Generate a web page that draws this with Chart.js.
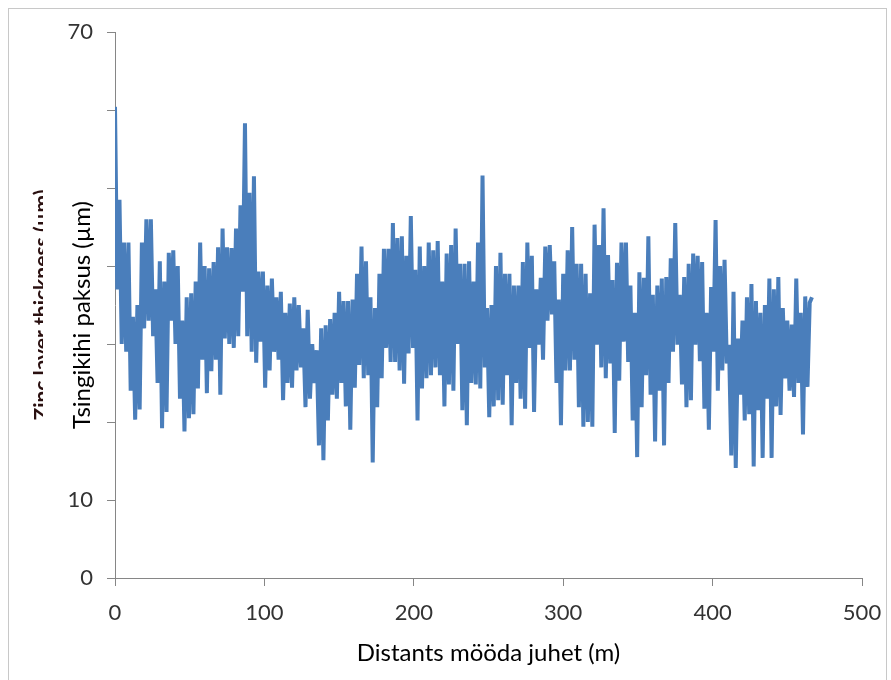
<!DOCTYPE html>
<html>
<head>
<meta charset="utf-8">
<script src="https://cdn.jsdelivr.net/npm/chart.js@4"></script>
<style>
  body { margin: 0; background: #fff; }
  #frame { position: absolute; left: 8px; top: 8px; width: 877px; height: 700px; border: 1px solid #c8c8c8; }
  #chart { position: absolute; left: 0; top: 0; }
</style>
</head>
<body>
<div id="frame"></div>
<canvas id="chart" width="891" height="680"></canvas>
<script>
// sample spacing along the wire (m)
const STEP_M = 1.5;

// zinc layer thickness (µm), left to right
const thickness = [
  // 0 - 78 m
  60.4, 37, 48.5, 30, 43, 29, 43, 24, 33.5, 20.3, 35, 21.6, 43, 32, 46, 33, 46, 31, 37, 25,
  40.6, 19.2, 38, 21.3, 41.7, 33, 42, 30, 40, 23, 33, 18.8, 36, 20.5, 36.5, 21, 38, 24.3,
  43, 28, 40, 23.7, 39.7, 26.5, 40.5, 28, 42.4, 23.5, 44.8, 30.7, 42.4, 30,
  // 78 - 156 m
  42.3, 29.5, 44.8, 31, 47.8, 36.7, 58.3, 31, 49.4, 29, 51.5, 27.6, 39.3, 30.3, 39.3, 24.4,
  37.5, 26.6, 38.4, 29, 36, 28, 36.7, 22.8, 34, 25, 35.2, 24.4, 36, 26.6, 35, 27, 32, 21.9,
  34.4, 23, 30, 25, 29.2, 17, 32, 15.1, 32.4, 20.2, 33.2, 23.5, 34, 23, 36.7, 25, 35.5, 22,
  // 156 - 234 m
  35.5, 19, 35.7, 24.4, 39, 27.3, 42.5, 25.6, 40.6, 26, 36, 14.8, 34.6, 21.9, 39, 25.6,
  42.2, 29.5, 42.2, 27.7, 45.5, 27.7, 43.6, 26.6, 43.8, 24.9, 41.3, 28.8, 46.4, 29.5,
  39.5, 20.2, 42.5, 24.3, 40, 25.6, 43, 26, 42, 27, 43.2, 26, 38, 22, 41.6, 24.8, 42.7, 24,
  44.8, 30, 40.3, 21.5,
  // 234 - 312 m
  40.3, 19.6, 40.6, 25, 38, 24.8, 43, 24.3, 51.6, 27, 34.6, 20.6, 35, 22, 40, 22.8,
  41.7, 22.2, 39, 26, 39, 19.6, 37.5, 25, 37.5, 23, 40.5, 21.7, 43, 29.5, 41.3, 21.3,
  37, 29.9, 38.5, 28, 42.5, 33, 42.7, 33.8, 40.6, 25, 35.7, 19.6, 39, 26.6, 42, 26.6,
  45, 28, 40.3, 21.9,
  // 312 - 390 m
  40.3, 19.4, 39, 20, 36.5, 19.4, 45.3, 29.9, 42.7, 27, 47.4, 25.6, 41.4, 27.5, 38.2, 18.6,
  40.4, 25.3, 43, 30.3, 43, 27.7, 37.5, 20.2, 34, 15.5, 39.2, 21.9, 38.5, 26, 43.8, 23.5,
  36.3, 17.5, 37.5, 24, 38.4, 17, 38.6, 25, 41, 29, 45.5, 29.9, 36.3, 24.8, 38.6, 21.9,
  40.3, 22.8, 41.6, 29.9,
  // 390 - 467 m
  41.3, 27.8, 40.5, 21.7, 34, 19, 37.3, 29, 45.9, 24, 40, 26.6, 40.8, 27.5, 29.9, 15.7,
  36.7, 14.1, 30.7, 23.5, 33, 20.2, 36, 21, 37.7, 14.3, 35.5, 21.5, 34, 15.4, 35, 23,
  38.4, 15.4, 37, 22, 38.6, 20.9, 34.6, 25.6, 33, 24, 32.5, 23.2, 38.4, 25, 34, 18.4,
  36.1, 24.5, 35.3, 36
];

const distance = thickness.map((_, i) => i * STEP_M);

const yTickLabels = [0, 10, 70];   // the others are hidden under the title box
const xTitle = 'Distants mööda juhet (m)';
const yTitle = 'Tsingikihi paksus (µm)';
const yTitleOld = 'Zinc layer thickness (µm)';

const axisColor = '#868686';
const tickFont = { family: 'Lato', size: 22 };

// old english title peeking out from under the pasted estonian one
const titlesPlugin = {
  id: 'titles',
  afterDraw(chart) {
    const ctx = chart.ctx;
    const midY = (chart.chartArea.top + chart.chartArea.bottom) / 2;
    ctx.save();
    ctx.beginPath();
    ctx.rect(0, 0, 43, chart.height);
    ctx.clip();
    ctx.translate(49, midY);
    ctx.rotate(-Math.PI / 2);
    ctx.textAlign = 'center';
    ctx.textBaseline = 'alphabetic';
    ctx.fillStyle = '#2a1010';
    ctx.font = 'bold 21px Lato';
    ctx.fillText(yTitleOld, 0, 0);
    ctx.restore();

    ctx.save();
    ctx.translate(90, midY + 10);
    ctx.rotate(-Math.PI / 2);
    ctx.textAlign = 'center';
    ctx.textBaseline = 'alphabetic';
    ctx.fillStyle = '#000';
    ctx.font = '24px Lato';
    ctx.fillText(yTitle, 0, 0);
    ctx.restore();
  }
};

const ctx = document.getElementById('chart').getContext('2d');
new Chart(ctx, {
  type: 'line',
  data: {
    datasets: [{
      data: distance.map((d, i) => ({ x: d, y: thickness[i] })),
      borderColor: '#4a7ebb',
      borderWidth: 4,
      pointRadius: 0,
      tension: 0,
      fill: false
    }]
  },
  options: {
    responsive: false,
    animation: false,
    layout: { padding: { left: 0, right: 29, top: 32, bottom: 0 } },
    plugins: {
      legend: { display: false },
      tooltip: { enabled: false }
    },
    scales: {
      x: {
        type: 'linear',
        min: 0,
        max: 500,
        afterFit: (s) => { s.height = 102; s.paddingLeft = 0; s.paddingRight = 0; },
        ticks: { stepSize: 100, color: '#333', font: tickFont, padding: 14, maxRotation: 0 },
        grid: { drawOnChartArea: false, drawTicks: true, tickLength: 8, color: axisColor },
        border: { color: axisColor },
        title: {
          display: true,
          text: xTitle,
          color: '#000',
          font: { family: 'Lato', size: 24 },
          padding: { top: 0, bottom: 12 }
        }
      },
      y: {
        min: 0,
        max: 70,
        afterFit: (s) => { s.width = 115; },
        ticks: {
          stepSize: 10,
          color: '#333',
          font: tickFont,
          padding: 14,
          callback: (v) => yTickLabels.includes(v) ? v : ''
        },
        grid: { drawOnChartArea: false, drawTicks: true, tickLength: 8, color: axisColor },
        border: { color: axisColor }
      }
    }
  },
  plugins: [titlesPlugin]
});
</script>
</body>
</html>
